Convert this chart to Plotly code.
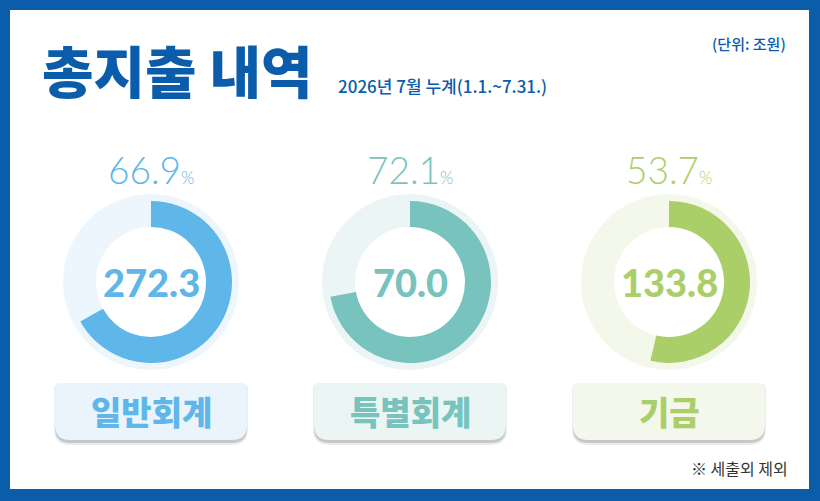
import plotly.graph_objects as go

# 데이터
categories = ["일반회계", "특별회계", "기금"]
amounts = [272.3, 70.0, 133.8]          # 조원
ratios = [66.9, 72.1, 53.7]             # 집행률(%)
main_colors = ["#5EB6E9", "#78C3BD", "#ABCF68"]
light_colors = ["#EEF6FD", "#EBF5F5", "#F3F8EB"]
box_colors = ["#EAF4FC", "#EBF5F4", "#F3F7EC"]

W, H = 820, 501
BLUE = "#0B5CAB"


def px_x(v):
    return v / W


def px_y(v):
    return 1 - v / H


def box_path(x0, y0, x1, y1, rt, rb):
    # 위쪽 모서리는 작게, 아래쪽 모서리는 크게 둥글게
    p = [
        f"M {px_x(x0 + rt)} {px_y(y0)}",
        f"L {px_x(x1 - rt)} {px_y(y0)}",
        f"Q {px_x(x1)} {px_y(y0)} {px_x(x1)} {px_y(y0 + rt)}",
        f"L {px_x(x1)} {px_y(y1 - rb)}",
        f"Q {px_x(x1)} {px_y(y1)} {px_x(x1 - rb)} {px_y(y1)}",
        f"L {px_x(x0 + rb)} {px_y(y1)}",
        f"Q {px_x(x0)} {px_y(y1)} {px_x(x0)} {px_y(y1 - rb)}",
        f"L {px_x(x0)} {px_y(y0 + rt)}",
        f"Q {px_x(x0)} {px_y(y0)} {px_x(x0 + rt)} {px_y(y0)}",
        "Z",
    ]
    return " ".join(p)


def label(x, y, text, font, xanchor="center"):
    return dict(x=px_x(x), y=px_y(y), xref="paper", yref="paper",
                xanchor=xanchor, yanchor="middle", showarrow=False,
                text=text, font=font)


fig = go.Figure()
shapes = []
annotations = []

# 흰 바탕 (바깥은 파란 테두리)
shapes.append(dict(type="rect", xref="paper", yref="paper", layer="below",
                   x0=px_x(10), x1=px_x(809), y0=px_y(489), y1=px_y(10),
                   fillcolor="white", line=dict(width=0)))

centers = [151, 410, 669]
cy = 282
r_bg, r_out, r_in = 88, 81, 55

for i, cat in enumerate(categories):
    cx = centers[i]
    # 연한 배경 원
    shapes.append(dict(type="circle", xref="paper", yref="paper", layer="below",
                       x0=px_x(cx - r_bg), x1=px_x(cx + r_bg),
                       y0=px_y(cy + r_bg), y1=px_y(cy - r_bg),
                       fillcolor=light_colors[i], line=dict(width=0)))
    # 안쪽 흰 원
    shapes.append(dict(type="circle", xref="paper", yref="paper", layer="below",
                       x0=px_x(cx - r_in), x1=px_x(cx + r_in),
                       y0=px_y(cy + r_in), y1=px_y(cy - r_in),
                       fillcolor="white", line=dict(width=0)))

    fig.add_trace(go.Pie(
        values=[ratios[i], 100 - ratios[i]],
        marker=dict(colors=[main_colors[i], "rgba(0,0,0,0)"], line=dict(width=0)),
        hole=r_in / r_out,
        sort=False,
        direction="clockwise",
        rotation=0,
        textinfo="none",
        hoverinfo="skip",
        showlegend=False,
        domain=dict(x=[px_x(cx - r_out), px_x(cx + r_out)],
                    y=[px_y(cy + r_out), px_y(cy - r_out)]),
    ))

    # 가운데 금액
    annotations.append(label(cx, cy, f"{amounts[i]:.1f}",
                             dict(family="Lato", size=38, color=main_colors[i], weight=900)))
    # 비율
    annotations.append(label(cx, 169, f"{ratios[i]:.1f}<span style='font-size:17px'>%</span>",
                             dict(family="Lato", size=37, color=main_colors[i], weight=300)))

    # 라벨 박스 (그림자 + 박스)
    bx0, bx1, by0, by1 = cx - 96, cx + 96, 383, 440
    shapes.append(dict(type="path", xref="paper", yref="paper", layer="below",
                       path=box_path(bx0 - 1, by0 + 1, bx1 + 1, by1 + 5, 5, 16),
                       fillcolor="rgba(0,0,0,0.07)", line=dict(width=0)))
    shapes.append(dict(type="path", xref="paper", yref="paper", layer="below",
                       path=box_path(bx0, by0 + 1, bx1, by1 + 3, 5, 15),
                       fillcolor="rgba(0,0,0,0.16)", line=dict(width=0)))
    shapes.append(dict(type="path", xref="paper", yref="paper", layer="below",
                       path=box_path(bx0, by0, bx1, by1, 5, 15),
                       fillcolor=box_colors[i], line=dict(width=0)))
    annotations.append(label(cx, 411, cat,
                             dict(family="Noto Sans CJK KR", size=33,
                                  color=main_colors[i], weight=900)))

# 제목과 부가 텍스트
annotations.append(label(40, 68, "총지출 내역",
                         dict(family="Noto Sans CJK KR", size=56, color=BLUE, weight=900),
                         xanchor="left"))
annotations.append(label(336, 86, "2026년 7월 누계(1.1.~7.31.)",
                         dict(family="Noto Sans CJK KR", size=17, color=BLUE, weight=500),
                         xanchor="left"))
annotations.append(label(788, 43, "(단위: 조원)",
                         dict(family="Noto Sans CJK KR", size=15, color=BLUE, weight=500),
                         xanchor="right"))
annotations.append(label(790, 468, "※ 세출외 제외",
                         dict(family="Noto Sans CJK KR", size=16, color="#333333"),
                         xanchor="right"))

fig.update_layout(
    width=W, height=H,
    margin=dict(l=0, r=0, t=0, b=0),
    paper_bgcolor=BLUE,
    plot_bgcolor="white",
    shapes=shapes,
    annotations=annotations,
    showlegend=False,
)

# 브라우저 기본 여백 제거, 툴바 숨김
fig.write_html("out.html", config={"displayModeBar": False},
               post_script="document.body.style.margin='0';")
